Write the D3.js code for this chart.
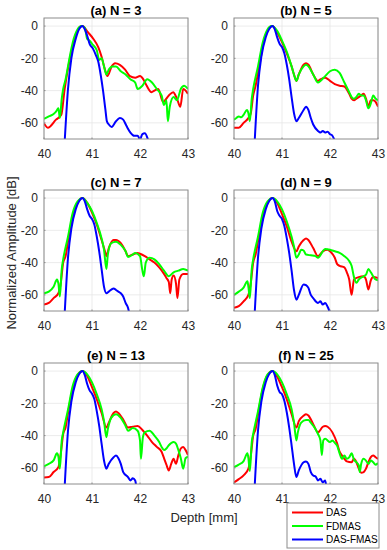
<!DOCTYPE html>
<html><head><meta charset="utf-8">
<script src="https://cdn.jsdelivr.net/npm/d3@7"></script>
<style>body{margin:0;background:#fff}svg{display:block}</style>
</head><body><svg id="c" width="387" height="550"></svg>
<script>
const panelTitles = ["(a) N = 3","(b) N = 5","(c) N = 7","(d) N = 9","(e) N = 13","(f) N = 25"];
const seriesNames = ["DAS","FDMAS","DAS-FMAS"];
const seriesColors = ["#ff0000","#00ff00","#0000ff"];
const xTicks = [40,41,42,43];
const yTicks = [0,-20,-40,-60];

const das_a = [[40,-60.4],[40.08,-63],[40.25,-58],[40.36,-55],[40.43,-39],[40.54,-20],[40.64,-8],[40.75,-0.5],[40.8,0],[40.92,-4],[41.03,-8],[41.13,-13],[41.2,-19],[41.27,-27],[41.32,-31],[41.41,-25],[41.48,-23],[41.58,-24],[41.69,-27],[41.79,-31],[41.9,-32],[42.0,-31],[42.07,-33],[42.14,-37],[42.24,-41],[42.3,-40],[42.38,-39],[42.48,-47],[42.6,-43],[42.69,-41],[42.77,-45],[42.84,-50],[42.9,-39],[43,-42]];
const fdmas_a = [[40,-57.5],[40.1,-56],[40.2,-54.5],[40.25,-53],[40.3,-51],[40.33,-57],[40.37,-45],[40.4,-39],[40.45,-33],[40.5,-25],[40.55,-17],[40.6,-10],[40.7,-2],[40.78,0],[40.85,-1],[40.9,-8],[40.95,-9],[41.0,-11],[41.1,-15],[41.15,-21],[41.2,-20],[41.25,-25],[41.3,-30],[41.35,-27],[41.42,-25],[41.5,-25],[41.6,-28],[41.7,-30],[41.8,-33],[41.9,-35],[41.95,-39],[42.05,-37],[42.15,-33],[42.25,-35],[42.35,-39],[42.45,-43],[42.5,-49],[42.55,-46],[42.58,-59],[42.62,-50],[42.7,-44],[42.77,-46],[42.85,-39],[42.92,-37],[43,-39]];
const dasfmas_a = [[40.43,-72],[40.5,-39],[40.57,-20],[40.66,-8],[40.73,-2],[40.8,0],[40.85,-2],[40.9,-6],[40.95,-11],[41.02,-14],[41.08,-18],[41.13,-22],[41.18,-30],[41.23,-40],[41.28,-52],[41.31,-59],[41.35,-61],[41.41,-62.5],[41.5,-59],[41.58,-57],[41.65,-58],[41.72,-62],[41.8,-66],[41.88,-68],[41.95,-68],[42.0,-70],[42.05,-67],[42.1,-66.5],[42.15,-69],[42.18,-72]];

const das_b = [[40,-63],[40.1,-63],[40.2,-60],[40.3,-57],[40.35,-54],[40.4,-43],[40.45,-37],[40.5,-29],[40.55,-21],[40.6,-12],[40.7,-3],[40.8,0],[40.9,-4],[41.0,-10],[41.1,-17],[41.2,-25],[41.25,-30],[41.3,-34],[41.35,-30],[41.45,-24],[41.5,-23],[41.55,-24],[41.65,-30],[41.75,-34],[41.8,-33],[41.9,-32],[42.0,-34],[42.1,-36],[42.2,-37],[42.3,-37.5],[42.4,-42],[42.45,-45],[42.5,-46],[42.55,-45],[42.65,-43],[42.7,-42],[42.75,-45],[42.8,-50],[42.85,-46],[42.9,-46],[42.95,-47],[43,-50]];
const fdmas_b = [[40,-58],[40.05,-57],[40.1,-56],[40.15,-56.5],[40.2,-55],[40.27,-52],[40.3,-54],[40.33,-59],[40.37,-45],[40.4,-39],[40.5,-25],[40.6,-10],[40.7,-2],[40.78,0],[40.9,-3],[41.0,-9],[41.1,-16],[41.2,-25],[41.27,-32],[41.3,-34],[41.35,-30],[41.45,-25],[41.5,-24],[41.55,-25],[41.65,-30],[41.75,-35],[41.8,-34],[41.9,-31],[42.0,-28],[42.1,-27],[42.2,-29],[42.3,-35],[42.4,-41],[42.45,-44],[42.5,-45],[42.55,-44],[42.6,-42],[42.65,-43],[42.7,-43],[42.75,-46],[42.8,-51],[42.85,-48],[42.9,-43],[42.95,-45],[43,-46]];
const dasfmas_b = [[40.43,-72],[40.5,-37],[40.57,-19],[40.66,-7],[40.73,-2],[40.8,0],[40.85,-2],[40.9,-7],[40.95,-11],[41.0,-13],[41.05,-17],[41.1,-24],[41.15,-33],[41.2,-44],[41.25,-54],[41.3,-59],[41.35,-57],[41.45,-52],[41.5,-50],[41.55,-52],[41.6,-57],[41.65,-61],[41.75,-65],[41.8,-66],[41.85,-65],[41.9,-66],[41.95,-65.5],[42.0,-67],[42.05,-68],[42.1,-71]];

const das_c = [[40,-66],[40.1,-65],[40.2,-62],[40.3,-59],[40.35,-52.5],[40.4,-40],[40.45,-36],[40.5,-27],[40.6,-11],[40.7,-3],[40.8,0],[40.9,-3],[41.0,-9],[41.1,-16.5],[41.2,-26],[41.27,-33],[41.3,-36],[41.35,-31],[41.45,-26],[41.5,-26],[41.6,-28],[41.7,-33],[41.75,-36],[41.85,-35],[41.95,-34],[42.0,-34.5],[42.1,-36],[42.2,-38],[42.3,-40],[42.4,-43],[42.5,-47],[42.55,-49.5],[42.6,-52],[42.63,-59],[42.66,-50.5],[42.7,-48],[42.75,-53],[42.78,-62],[42.82,-50.5],[42.9,-47],[43,-47]];
const fdmas_c = [[40,-59],[40.1,-58],[40.2,-55],[40.27,-50.5],[40.3,-53],[40.33,-61],[40.37,-44],[40.4,-38],[40.5,-24],[40.6,-9],[40.7,-2],[40.8,0],[40.9,-3],[41.0,-8],[41.1,-15.5],[41.2,-25],[41.25,-32],[41.3,-44],[41.33,-35],[41.4,-28],[41.5,-27],[41.6,-29],[41.7,-33],[41.75,-36.5],[41.85,-35],[41.9,-34],[42.0,-36],[42.05,-45],[42.08,-48.5],[42.12,-40],[42.2,-37],[42.3,-38],[42.4,-41],[42.5,-45],[42.6,-48.5],[42.7,-46],[42.8,-45],[42.9,-44],[43,-45]];
const dasfmas_c = [[40.43,-72],[40.5,-37],[40.57,-19],[40.66,-7],[40.73,-2],[40.8,0],[40.85,-2],[40.9,-7],[40.95,-11],[41.0,-13],[41.05,-16.5],[41.1,-24],[41.15,-33],[41.2,-44],[41.25,-55],[41.3,-59],[41.35,-58],[41.45,-56],[41.5,-57],[41.55,-58],[41.6,-59],[41.65,-61],[41.7,-65],[41.75,-68],[41.78,-72]];

const das_d = [[40,-68],[40.1,-67],[40.2,-64],[40.3,-60],[40.35,-52.5],[40.4,-40],[40.45,-35],[40.5,-27],[40.6,-11],[40.7,-3],[40.8,0],[40.9,-3],[41.0,-10],[41.1,-17.5],[41.2,-27],[41.3,-33],[41.35,-30],[41.45,-26],[41.5,-25],[41.55,-26],[41.65,-31],[41.75,-36],[41.85,-33],[41.95,-32],[42.0,-33],[42.1,-37],[42.15,-41],[42.2,-42],[42.3,-43],[42.35,-46],[42.4,-50.5],[42.45,-60],[42.5,-50.5],[42.6,-49],[42.7,-48.5],[42.75,-50.5],[42.8,-56.7],[42.85,-51],[42.9,-49],[43,-49.5]];
const fdmas_d = [[40,-60],[40.1,-58],[40.2,-55.5],[40.28,-51.5],[40.3,-55],[40.33,-62],[40.37,-44],[40.4,-38],[40.5,-24],[40.6,-9],[40.7,-2],[40.8,0],[40.9,-2],[41.0,-7],[41.1,-14.5],[41.2,-24],[41.25,-30],[41.3,-37],[41.35,-35],[41.4,-32],[41.45,-32.5],[41.5,-35],[41.6,-35.5],[41.7,-36],[41.75,-37],[41.85,-33],[41.9,-31.5],[42.0,-32],[42.1,-33],[42.2,-34],[42.3,-36],[42.4,-39],[42.45,-42],[42.5,-49],[42.55,-52.5],[42.6,-50.5],[42.7,-48.5],[42.75,-47.5],[42.8,-44],[42.85,-46],[42.9,-48.5],[42.95,-50.5],[43,-51]];
const dasfmas_d = [[40.43,-72],[40.5,-37],[40.57,-19],[40.66,-7],[40.73,-2],[40.8,0],[40.85,-2],[40.9,-8],[40.95,-11],[41.0,-13],[41.05,-17.5],[41.1,-25],[41.15,-34],[41.2,-45],[41.25,-57],[41.3,-63],[41.35,-60],[41.45,-53.5],[41.5,-54],[41.55,-55.7],[41.6,-60],[41.65,-62],[41.75,-65],[41.8,-64],[41.85,-66],[41.9,-65],[41.95,-67.4],[42.0,-71]];

const das_e = [[40,-66],[40.1,-65.7],[40.2,-62.6],[40.3,-59.5],[40.35,-51],[40.4,-39],[40.45,-35],[40.5,-26],[40.6,-11],[40.7,-2.5],[40.8,0],[40.9,-3],[41.0,-10],[41.1,-17.5],[41.2,-26],[41.3,-35],[41.35,-32],[41.45,-26],[41.5,-25],[41.55,-26],[41.65,-30],[41.75,-35],[41.85,-34.5],[41.95,-34],[42.05,-36.5],[42.15,-40],[42.25,-44],[42.35,-47],[42.45,-50],[42.5,-54],[42.55,-58],[42.6,-61.6],[42.65,-57.5],[42.7,-54.4],[42.75,-57.5],[42.8,-52],[42.85,-48],[42.9,-47],[42.95,-49],[43,-52]];
const fdmas_e = [[40,-59],[40.1,-57.5],[40.2,-55.4],[40.27,-51],[40.3,-53],[40.33,-60.5],[40.37,-43],[40.4,-38],[40.5,-24],[40.6,-9],[40.7,-2],[40.8,0],[40.9,-2],[41.0,-7],[41.1,-14.4],[41.2,-23.6],[41.25,-31],[41.3,-41],[41.33,-36],[41.4,-29],[41.5,-26.7],[41.6,-29],[41.7,-34],[41.75,-37],[41.85,-35.3],[41.95,-37],[42.0,-43],[42.02,-54.4],[42.06,-41],[42.1,-38],[42.2,-37],[42.3,-40],[42.4,-44],[42.45,-47],[42.5,-49],[42.55,-48],[42.6,-46],[42.7,-44],[42.75,-45],[42.8,-49],[42.85,-54],[42.9,-60.5],[42.95,-54],[43,-53]];
const dasfmas_e = [[40.43,-72],[40.5,-37],[40.57,-19],[40.66,-7],[40.73,-2],[40.8,0],[40.85,-2.5],[40.9,-8],[40.95,-12],[41.0,-14],[41.05,-17.5],[41.1,-25],[41.15,-34],[41.2,-45],[41.25,-55.4],[41.3,-60.5],[41.35,-57.5],[41.45,-53.4],[41.5,-52.4],[41.55,-54],[41.6,-57.5],[41.65,-62.6],[41.75,-65.7],[41.8,-67.8],[41.85,-66.5],[41.9,-67.8],[41.92,-71]];

const das_f = [[40,-69],[40.1,-67],[40.2,-64.7],[40.3,-60.5],[40.35,-52.4],[40.4,-40],[40.45,-36],[40.5,-27],[40.6,-11],[40.7,-2.5],[40.8,0],[40.9,-3.5],[41.0,-10],[41.1,-17.5],[41.2,-26.7],[41.3,-35],[41.35,-31],[41.45,-27.7],[41.5,-26.7],[41.55,-27.5],[41.65,-32.9],[41.75,-38],[41.85,-34.5],[41.9,-34],[41.95,-34.5],[42.05,-38],[42.15,-45],[42.2,-50],[42.25,-52.4],[42.3,-54.4],[42.35,-56],[42.45,-56.5],[42.5,-54.4],[42.55,-56.5],[42.6,-60.5],[42.65,-63],[42.7,-62.6],[42.75,-60.5],[42.8,-56.5],[42.85,-53.4],[42.9,-52.4],[42.95,-53.4],[43,-54.4]];
const fdmas_f = [[40,-59.5],[40.1,-58],[40.2,-55.8],[40.28,-51],[40.3,-54],[40.33,-62],[40.37,-44],[40.4,-39],[40.5,-25],[40.6,-10],[40.7,-2],[40.8,0],[40.9,-2],[41.0,-7],[41.1,-14.4],[41.2,-23.6],[41.25,-32],[41.3,-43],[41.33,-38],[41.4,-32],[41.5,-30.4],[41.55,-30.4],[41.6,-32],[41.7,-36],[41.75,-39],[41.8,-43],[41.83,-52],[41.86,-43],[41.9,-42],[42.0,-44],[42.05,-43],[42.1,-44.5],[42.15,-46.4],[42.2,-51],[42.25,-54.4],[42.3,-52.4],[42.35,-54.4],[42.4,-53.5],[42.45,-51],[42.5,-55],[42.55,-56.5],[42.6,-58.5],[42.62,-62.6],[42.65,-57.5],[42.7,-54.4],[42.75,-55.5],[42.8,-57.5],[42.85,-55.5],[42.9,-56.5],[42.95,-58],[43,-57]];
const dasfmas_f = [[40.43,-72],[40.5,-37],[40.57,-19],[40.66,-7],[40.73,-2],[40.8,0],[40.85,-2.5],[40.9,-9],[40.95,-13],[41.0,-14.4],[41.05,-18.5],[41.1,-25.7],[41.15,-35],[41.2,-46],[41.25,-57.5],[41.3,-65.7],[41.35,-61.6],[41.45,-56.5],[41.5,-56],[41.55,-57.5],[41.6,-62.6],[41.65,-64.7],[41.7,-65.3],[41.75,-67.8],[41.8,-66.8],[41.85,-69],[41.9,-67.8],[41.92,-71]];

const panelData = [
  [das_a, fdmas_a, dasfmas_a],
  [das_b, fdmas_b, dasfmas_b],
  [das_c, fdmas_c, dasfmas_c],
  [das_d, fdmas_d, dasfmas_d],
  [das_e, fdmas_e, dasfmas_e],
  [das_f, fdmas_f, dasfmas_f]
];

const svg = d3.select("#c");
const font = "'Liberation Sans', Arial, Helvetica, sans-serif";
const colX = [44, 234];
const rowY = [18, 190, 363];
const pw = 144, ph = 121;

panelData.forEach((series, i) => {
  const c = i % 2, r = Math.floor(i / 2);
  const g = svg.append("g").attr("transform", `translate(${colX[c]},${rowY[r]})`);
  const x = d3.scaleLinear().domain([40, 43]).range([0, pw]);
  const y = d3.scaleLinear().domain([-70, 5]).range([ph, 0]);

  g.append("g").selectAll("line").data(xTicks).join("line")
    .attr("x1", d => x(d)).attr("x2", d => x(d)).attr("y1", 0).attr("y2", ph)
    .attr("stroke", "#e6e6e6").attr("stroke-width", 0.8);
  g.append("g").selectAll("line").data(yTicks).join("line")
    .attr("y1", d => y(d)).attr("y2", d => y(d)).attr("x1", 0).attr("x2", pw)
    .attr("stroke", "#e6e6e6").attr("stroke-width", 0.8);

  const clipId = "clip" + i;
  g.append("clipPath").attr("id", clipId).append("rect")
    .attr("x", 0).attr("y", 0).attr("width", pw).attr("height", ph);

  const line = d3.line().x(d => x(d[0])).y(d => y(d[1])).curve(d3.curveMonotoneX);
  const lg = g.append("g").attr("clip-path", `url(#${clipId})`);
  series.forEach((s, k) => {
    lg.append("path").datum(s).attr("d", line)
      .attr("fill", "none").attr("stroke", seriesColors[k])
      .attr("stroke-width", 2).attr("stroke-linejoin", "round");
  });

  const xa = g.append("g").attr("transform", `translate(0,${ph})`)
    .call(d3.axisBottom(x).tickValues(xTicks).tickFormat(d3.format("d")).tickSize(0).tickPadding(10));
  const ya = g.append("g")
    .call(d3.axisLeft(y).tickValues(yTicks).tickFormat(d => d).tickSize(0).tickPadding(6));
  [xa, ya].forEach(a => {
    a.select(".domain").remove();
    a.selectAll("text").attr("font-family", font).attr("font-size", 12).attr("fill", "#262626");
  });
  g.append("g").selectAll("line").data(xTicks).join("line")
    .attr("x1", d => x(d)).attr("x2", d => x(d)).attr("y1", ph).attr("y2", ph - 1.5)
    .attr("stroke", "#8c8c8c");
  g.append("g").selectAll("line").data(yTicks).join("line")
    .attr("y1", d => y(d)).attr("y2", d => y(d)).attr("x1", 0).attr("x2", 1.5)
    .attr("stroke", "#8c8c8c");

  g.append("rect").attr("x", 0).attr("y", 0).attr("width", pw).attr("height", ph)
    .attr("fill", "none").attr("stroke", "#8c8c8c").attr("stroke-width", 1);

  g.append("text").attr("x", pw / 2).attr("y", -3).attr("text-anchor", "middle")
    .attr("font-family", font).attr("font-size", 13).attr("font-weight", "bold")
    .attr("fill", "#000").text(panelTitles[i]);
});

svg.append("text").attr("x", 204).attr("y", 522).attr("text-anchor", "middle")
  .attr("font-family", font).attr("font-size", 13).attr("fill", "#262626").text("Depth [mm]");
svg.append("text").attr("transform", "translate(16,253) rotate(-90)").attr("text-anchor", "middle")
  .attr("font-family", font).attr("font-size", 13).attr("fill", "#262626").text("Normalized Amplitude [dB]");

const leg = svg.append("g").attr("transform", "translate(287,503)");
leg.append("rect").attr("x", 0).attr("y", 0).attr("width", 92).attr("height", 45)
  .attr("fill", "#fff").attr("stroke", "#8c8c8c").attr("stroke-width", 1);
seriesNames.forEach((n, k) => {
  const yy = 9.5 + k * 13.5;
  leg.append("line").attr("x1", 5).attr("x2", 36).attr("y1", yy).attr("y2", yy)
    .attr("stroke", seriesColors[k]).attr("stroke-width", 2);
  leg.append("text").attr("x", 39).attr("y", yy).attr("dy", "0.35em")
    .attr("font-family", font).attr("font-size", 10).attr("fill", "#000").text(n);
});
</script></body></html>
